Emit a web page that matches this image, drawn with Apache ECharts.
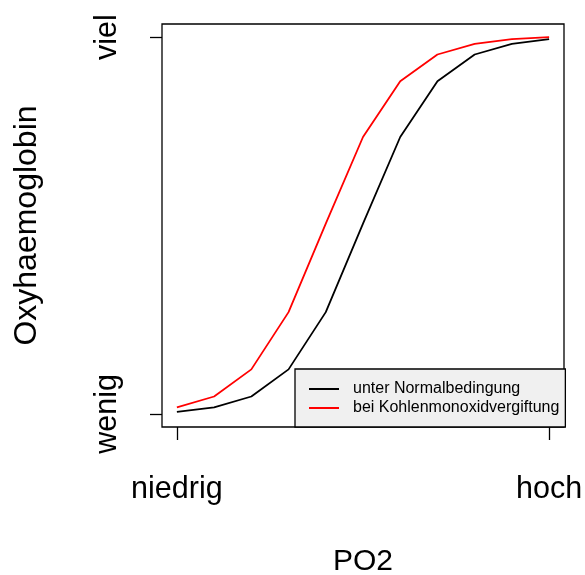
<!DOCTYPE html>
<html>
<head>
<meta charset="utf-8">
<script src="https://cdn.jsdelivr.net/npm/echarts@6/dist/echarts.min.js"></script>
<style>
html,body{margin:0;padding:0;background:#fff;}
#chart{width:585px;height:575px;}
</style>
</head>
<body>
<div id="chart"></div>
<script>
// Data (relative scale: 0 = "wenig", 1 = "viel"; x: 0 = "niedrig", 10 = "hoch")
var xValues = [0, 1, 2, 3, 4, 5, 6, 7, 8, 9, 10];
var normalValues = [0.005, 0.017, 0.046, 0.118, 0.270, 0.505, 0.735, 0.883, 0.954, 0.982, 0.995];
var coValues = [0.017, 0.046, 0.118, 0.270, 0.505, 0.735, 0.883, 0.954, 0.982, 0.995, 1.000];
var xTickValues = [0, 10];
var xTickLabels = ['niedrig', 'hoch'];
var yTickValues = [0, 1];
var yTickLabels = ['wenig', 'viel'];
var seriesNames = ['unter Normalbedingung', 'bei Kohlenmonoxidvergiftung'];
var xTitle = 'PO2';
var yTitle = 'Oxyhaemoglobin';

var FONT = "'Liberation Sans', Arial, Helvetica, sans-serif";

function pairs(xs, ys) {
  return xs.map(function (x, i) { return [x, ys[i]]; });
}
function labelFor(vals, labels) {
  return function (v) {
    for (var i = 0; i < vals.length; i++) {
      if (Math.abs(vals[i] - v) < 1e-9) return labels[i];
    }
    return '';
  };
}

var chart = echarts.init(document.getElementById('chart'), null, {renderer: 'canvas'});
chart.setOption({
  animation: false,
  backgroundColor: '#ffffff',
  textStyle: {fontFamily: FONT},
  grid: {
    left: 162, right: 21, top: 24, bottom: 148,
    show: true, borderColor: '#000', borderWidth: 1.3, backgroundColor: 'transparent',
    outerBoundsMode: 'none'
  },
  xAxis: {
    type: 'value',
    min: -0.4, max: 10.4,
    name: xTitle,
    nameLocation: 'middle',
    nameGap: 120,
    nameTextStyle: {fontSize: 30, color: '#000', fontFamily: FONT, verticalAlign: 'top'},
    axisLine: {show: false, onZero: false},
    splitLine: {show: false},
    axisTick: {show: true, customValues: xTickValues, length: 13, lineStyle: {color: '#000', width: 1.3}},
    axisLabel: {
      customValues: xTickValues,
      formatter: labelFor(xTickValues, xTickLabels),
      fontSize: 30.5, color: '#000', fontFamily: FONT, margin: 47
    }
  },
  yAxis: {
    type: 'value',
    min: -0.035, max: 1.035,
    name: yTitle,
    nameLocation: 'middle',
    nameRotate: 90,
    nameGap: 119,
    nameTextStyle: {fontSize: 32, color: '#000', fontFamily: FONT},
    axisLine: {show: false, onZero: false},
    splitLine: {show: false},
    axisTick: {show: true, customValues: yTickValues, length: 12, lineStyle: {color: '#000', width: 1.3}},
    axisLabel: {
      customValues: yTickValues,
      rotate: 90,
      formatter: labelFor(yTickValues, yTickLabels),
      fontSize: 30.5, color: '#000', fontFamily: FONT, margin: 39
    }
  },
  legend: {
    left: 295, top: 369,
    orient: 'vertical',
    backgroundColor: '#f0f0f0',
    borderColor: '#000', borderWidth: 1.3, borderRadius: 0,
    padding: [12, 6, 11, 14],
    itemGap: 3,
    itemWidth: 30, itemHeight: 2,
    icon: 'rect',
    textStyle: {fontSize: 16, color: '#000', fontFamily: FONT, padding: [0, 0, 0, 9], lineHeight: 16},
    data: seriesNames
  },
  series: [
    {
      name: seriesNames[0], type: 'line', data: pairs(xValues, normalValues),
      showSymbol: false, symbol: 'none', color: '#000000',
      lineStyle: {color: '#000000', width: 1.8}
    },
    {
      name: seriesNames[1], type: 'line', data: pairs(xValues, coValues),
      showSymbol: false, symbol: 'none', color: '#ff0000',
      lineStyle: {color: '#ff0000', width: 1.8}
    }
  ]
});
</script>
</body>
</html>
